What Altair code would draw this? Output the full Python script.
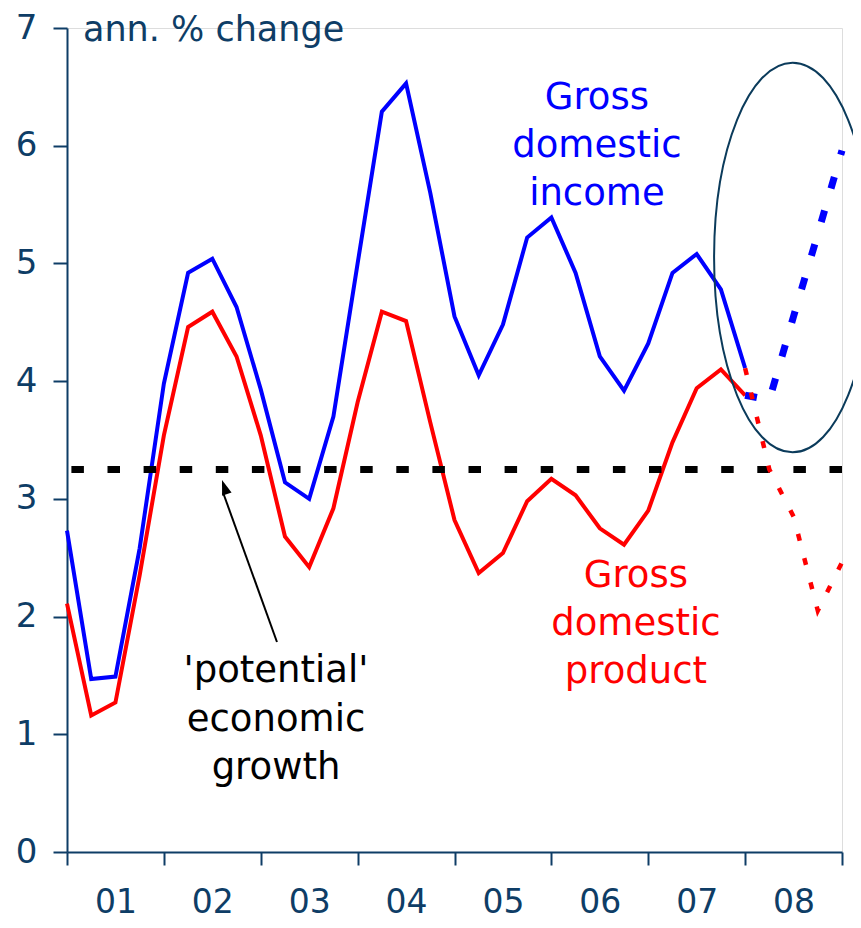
import altair as alt
import pandas as pd

# ---- data (quarter index 0 = 2001Q1) ----
quarters_actual = list(range(29))
gdi_actual = [2.73, 1.47, 1.49, 2.58, 3.98, 4.92, 5.04, 4.63, 3.93, 3.14, 3.00, 3.70,
              5.00, 6.29, 6.53, 5.60, 4.55, 4.05, 4.48, 5.22, 5.39, 4.92, 4.21, 3.92,
              4.32, 4.92, 5.08, 4.78, 4.11]
gdp_actual = [2.11, 1.16, 1.27, 2.35, 3.54, 4.46, 4.59, 4.21, 3.54, 2.68, 2.42, 2.92,
              3.82, 4.59, 4.51, 3.65, 2.82, 2.37, 2.54, 2.98, 3.17, 3.03, 2.75, 2.61,
              2.90, 3.48, 3.94, 4.10, 3.88]
quarters_forecast = [28, 29, 30, 31, 32]
gdi_forecast = [3.88, 3.84, 4.55, 5.25, 5.96]
gdp_forecast = [4.11, 3.25, 2.85, 2.05, 2.46]
potential_growth = 3.25
year_labels = ["01", "02", "03", "04", "05", "06", "07", "08"]
y_ticks = [0, 1, 2, 3, 4, 5, 6, 7]

label_gdi = ["Gross", "domestic", "income"]
label_gdp = ["Gross", "domestic", "product"]
label_pot = ["'potential'", "economic", "growth"]
label_units = "ann. % change"

NAVY = "#0E3D66"
ELLIPSE = "#0B3B5B"
FONT = "DejaVu Sans"

act = pd.DataFrame({"q": quarters_actual, "gdi": gdi_actual, "gdp": gdp_actual})
fc = pd.DataFrame({"q": quarters_forecast, "gdi": gdi_forecast, "gdp": gdp_forecast})
one = pd.DataFrame({"a": [0]})

xscale = alt.Scale(domain=[0, 32], nice=False, zero=False)
yscale = alt.Scale(domain=[0, 7], nice=False, zero=False)

label_expr = ("datum.value % 4 == 2 ? [" + ",".join("'%s'" % y for y in year_labels)
              + "][floor(datum.value / 4)] : ''")

x_axis = alt.Axis(values=list(range(0, 33, 2)), labelExpr=label_expr, title=None, grid=False,
                  tickSize=13, tickWidth=2, tickColor=NAVY,
                  tickOpacity={"condition": {"test": "datum.value % 4 === 0", "value": 1}, "value": 0},
                  domainColor=NAVY, domainWidth=2, labelFontSize=33, labelColor=NAVY,
                  labelFont=FONT, labelPadding=21, labelFlush=False, labelOverlap=False)
y_axis = alt.Axis(values=y_ticks, format="d", title=None, grid=False, tickSize=14, tickWidth=2,
                  tickColor=NAVY, domainColor=NAVY, domainWidth=2, labelFontSize=34,
                  labelColor=NAVY, labelFont=FONT, labelPadding=16)

X = alt.X("q:Q", scale=xscale, axis=x_axis)

base_act = alt.Chart(act)
base_fc = alt.Chart(fc)

pot = alt.Chart(one).mark_rule(color="black", strokeWidth=7, strokeDash=[12.5, 23.6]).encode(
    y=alt.datum(potential_growth, scale=yscale, axis=y_axis))

gdi_line = base_act.mark_line(color="#0000FF", strokeWidth=4).encode(
    x=X, y=alt.Y("gdi:Q", scale=yscale, axis=y_axis))
gdp_line = base_act.mark_line(color="#FF0000", strokeWidth=4).encode(
    x=X, y=alt.Y("gdp:Q", scale=yscale))
gdi_fc = base_fc.mark_line(color="#0000FF", strokeWidth=7, strokeDash=[12, 23]).encode(
    x=X, y=alt.Y("gdi:Q", scale=yscale))
gdp_fc = base_fc.mark_line(color="#FF0000", strokeWidth=4.5, strokeDash=[7, 18]).encode(
    x=X, y=alt.Y("gdp:Q", scale=yscale))

ellipse = alt.Chart(one).mark_point(
    shape="M-0.403,0A0.403,1,0,1,1,0.403,0A0.403,1,0,1,1,-0.403,0Z",
    size=151800, filled=False, stroke=ELLIPSE, strokeWidth=2, opacity=1).encode(
    x=alt.datum(29.96), y=alt.datum(5.05))

arrow_line = alt.Chart(one).mark_rule(color="black", strokeWidth=2).encode(
    x=alt.datum(8.67), y=alt.datum(1.784), x2=alt.datum(6.45), y2=alt.datum(3.05))
arrow_head = alt.Chart(one).mark_point(
    shape="M0,0L0.5,1.5L-0.5,1.5Z", size=400, filled=True, color="black",
    angle=341.25, opacity=1).encode(x=alt.datum(6.40), y=alt.datum(3.16))

txt_gdi = alt.Chart(one).mark_text(align="center", baseline="alphabetic", fontSize=37,
                                   font=FONT, color="#0000FF", lineHeight=48).encode(
    x=alt.datum(21.88), y=alt.datum(6.312), text=alt.value(label_gdi))
txt_gdp = alt.Chart(one).mark_text(align="center", baseline="alphabetic", fontSize=37,
                                   font=FONT, color="#FF0000", lineHeight=48).encode(
    x=alt.datum(23.49), y=alt.datum(2.251), text=alt.value(label_gdp))
txt_pot = alt.Chart(one).mark_text(align="center", baseline="alphabetic", fontSize=37,
                                   font=FONT, color="black", lineHeight=48.5).encode(
    x=alt.datum(8.63), y=alt.datum(1.444), text=alt.value(label_pot))
txt_units = alt.Chart(one).mark_text(align="left", baseline="alphabetic", fontSize=35,
                                     font=FONT, color=NAVY).encode(
    x=alt.datum(0.66), y=alt.datum(6.89), text=alt.value(label_units))

chart = alt.layer(
    gdi_line, gdp_line, pot, ellipse, gdi_fc, gdp_fc,
    arrow_line, arrow_head, txt_gdi, txt_gdp, txt_pot, txt_units
).properties(
    width=775, height=824,
    padding={"left": 59, "top": 20, "right": 11, "bottom": 68},
    autosize=alt.AutoSizeParams(type="none"),
).configure_view(stroke=None).configure(background="white")

chart.save("out.html", embed_options={"renderer": "svg", "actions": False})
